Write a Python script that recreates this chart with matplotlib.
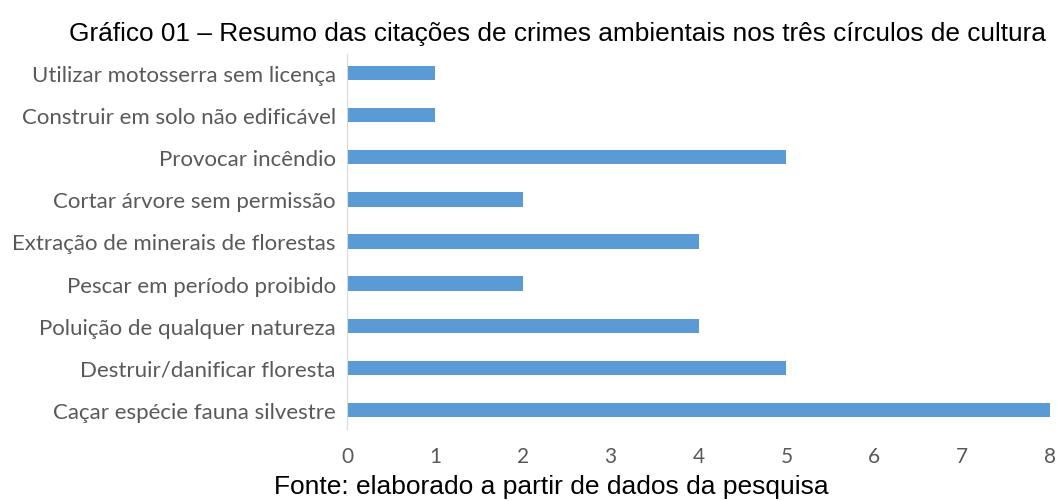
import matplotlib
matplotlib.use("Agg")
import matplotlib.pyplot as plt

# data, bottom to top as drawn
categories = [
    "Caçar espécie fauna silvestre",
    "Destruir/danificar floresta",
    "Poluição de qualquer natureza",
    "Pescar em período proibido",
    "Extração de minerais de florestas",
    "Cortar árvore sem permissão",
    "Provocar incêndio",
    "Construir em solo não edificável",
    "Utilizar motosserra sem licença",
]
citations = [8, 5, 4, 2, 4, 2, 5, 1, 1]
x_ticks = [0, 1, 2, 3, 4, 5, 6, 7, 8]

BAR_COLOR = "#5B9BD5"
TEXT_GRAY = "#595959"

fig = plt.figure(figsize=(10.59, 5.02), dpi=100)
ax = fig.add_axes([347 / 1059, 1 - 430 / 502, (1050 - 347) / 1059, 375 / 502])

ax.barh(range(len(categories)), citations, height=0.34, color=BAR_COLOR)

ax.set_xlim(0, 8)
ax.set_ylim(-0.45, len(categories) - 0.55)
ax.set_yticks(range(len(categories)))
ax.set_yticklabels(categories, fontsize=16, color=TEXT_GRAY, family="Lato")
ax.set_xticks(x_ticks)
ax.set_xticklabels([str(t) for t in x_ticks], fontsize=15, color=TEXT_GRAY, family="Lato")

for side in ["top", "right", "bottom"]:
    ax.spines[side].set_visible(False)
ax.spines["left"].set_color("#D9D9D9")
ax.tick_params(axis="both", length=0)
ax.tick_params(axis="y", pad=8)
ax.tick_params(axis="x", pad=12)

fig.text(0.526, 1 - 34 / 502, "Gráfico 01 – Resumo das citações de crimes ambientais nos três círculos de cultura",
         ha="center", va="center", fontsize=18.9, family="Liberation Sans")
fig.text(0.521, 1 - 487 / 502, "Fonte: elaborado a partir de dados da pesquisa",
         ha="center", va="center", fontsize=19, family="Liberation Sans")

fig.savefig("out.png", dpi=100)
